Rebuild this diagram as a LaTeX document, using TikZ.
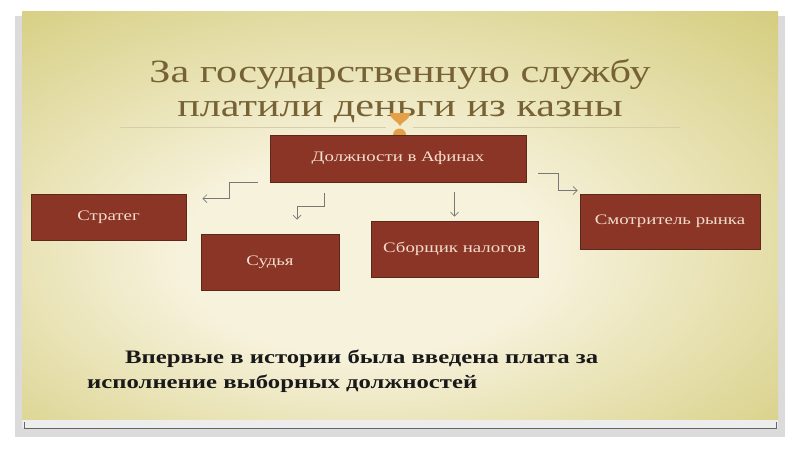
\documentclass[tikz,border=0pt]{standalone}
\usepackage{fontspec}
\setmainfont[FakeStretch=1.3]{Liberation Serif}
\usetikzlibrary{positioning}
\usetikzlibrary{calc}
\usetikzlibrary{arrows.meta}
\definecolor{slideolive}{RGB}{208,200,114}
\definecolor{slidecream}{RGB}{247,242,220}
\definecolor{titlebrown}{RGB}{118,98,52}
\definecolor{titleline}{RGB}{214,205,170}
\definecolor{boxred}{RGB}{139,53,38}
\definecolor{boxedge}{RGB}{92,40,26}
\definecolor{boxtext}{RGB}{243,222,206}
\definecolor{linkgray}{RGB}{120,120,120}
\definecolor{ornament}{RGB}{228,160,72}
\pgfdeclareradialshading{slidebg}{\pgfpoint{-3bp}{-6bp}}{color(0bp)=(slidecream); color(12bp)=(slidecream); color(42bp)=(slideolive); color(75bp)=(slideolive)}
\tikzset{
    post/.style={draw=boxedge, fill=boxred, text=boxtext, line width=0.8pt,
        inner sep=0pt, font=\fontsize{14.5}{17}\selectfont},
    link/.style={draw=linkgray, line width=0.7pt, -{Straight Barb[length=4pt,width=8pt]}},
    heading/.style={text=titlebrown, align=center, font=\fontsize{32.5}{34}\selectfont},
    note/.style={text=black!90, align=left, inner sep=0pt, font=\bfseries\fontsize{19}{25}\selectfont}
}

\begin{document}
\begin{tikzpicture}[x=1pt, y=-1pt]
    % slide and its frame
    \fill[white] (0,0) rectangle (800,450);
    \useasboundingbox (0,0) rectangle (800,450);
    \fill[black!14] (15,16) rectangle (785,437);
    \fill[black!7] (22,419) rectangle (778,428);
    \shade[shading=slidebg] (22,11) rectangle (778,419);
    \draw[black!60, line width=0.8pt] (24,422) -- (24,428) -- (776,428) -- (776,422);

    % title
    \node[heading] (title) at (400,91) {За государственную службу\\платили деньги из казны};
    \draw[titleline, line width=0.6pt] (120,127) -- (386,127) (413,127) -- (680,127);
    \fill[ornament] (390,113) .. controls (391,121) and (398,121) .. (400,126)
        .. controls (402,121) and (409,121) .. (410,113) -- cycle;
    \fill[ornament] (399.5,135) circle (6.5);

    % posts
    \node[post, minimum width=256pt, minimum height=47pt] (dolzh) at (398,158.5) {Должности в Афинах};
    \node[post, minimum width=155pt, minimum height=46pt] (strateg) at (108.5,217) {Стратег};
    \node[post, minimum width=138pt, minimum height=56pt] (sudya) at (270,262) {Судья};
    \node[post, minimum width=167pt, minimum height=56pt] (sborsh) at (454.5,249) {Сборщик налогов};
    \node[post, minimum width=180pt, minimum height=55pt] (smotr) at (670,221.5) {Смотритель рынка};

    % links
    \coordinate (s1) at ($(dolzh.south west)+(-12,0)$);
    \coordinate (e1) at ($(strateg.north east)+(16,5)$);
    \draw[link] (s1) -- ++(-28,0) |- (e1);

    \coordinate (s2) at ($(dolzh.south)+(-74,11)$);
    \coordinate (e2) at ($(sudya.north)+(27,-14)$);
    \draw[link] (s2) -- ++(0,13) -| (e2);

    \coordinate (s3) at ($(dolzh.south)+(56,10)$);
    \coordinate (e3) at ($(sborsh.north)+(0,-4)$);
    \draw[link] (s3) -- (e3 |- s3) -- (e3);

    \coordinate (s4) at ($(dolzh.east)+(12,14.5)$);
    \coordinate (e4) at ($(smotr.north west)+(-2,-3)$);
    \draw[link] (s4) -- ++(20,0) |- (e4);

    % remark
    \node[note, anchor=north west] (remark) at (87,350) {\hspace*{38pt}Впервые в истории была введена плата за\\исполнение выборных должностей};
\end{tikzpicture}
\end{document}
